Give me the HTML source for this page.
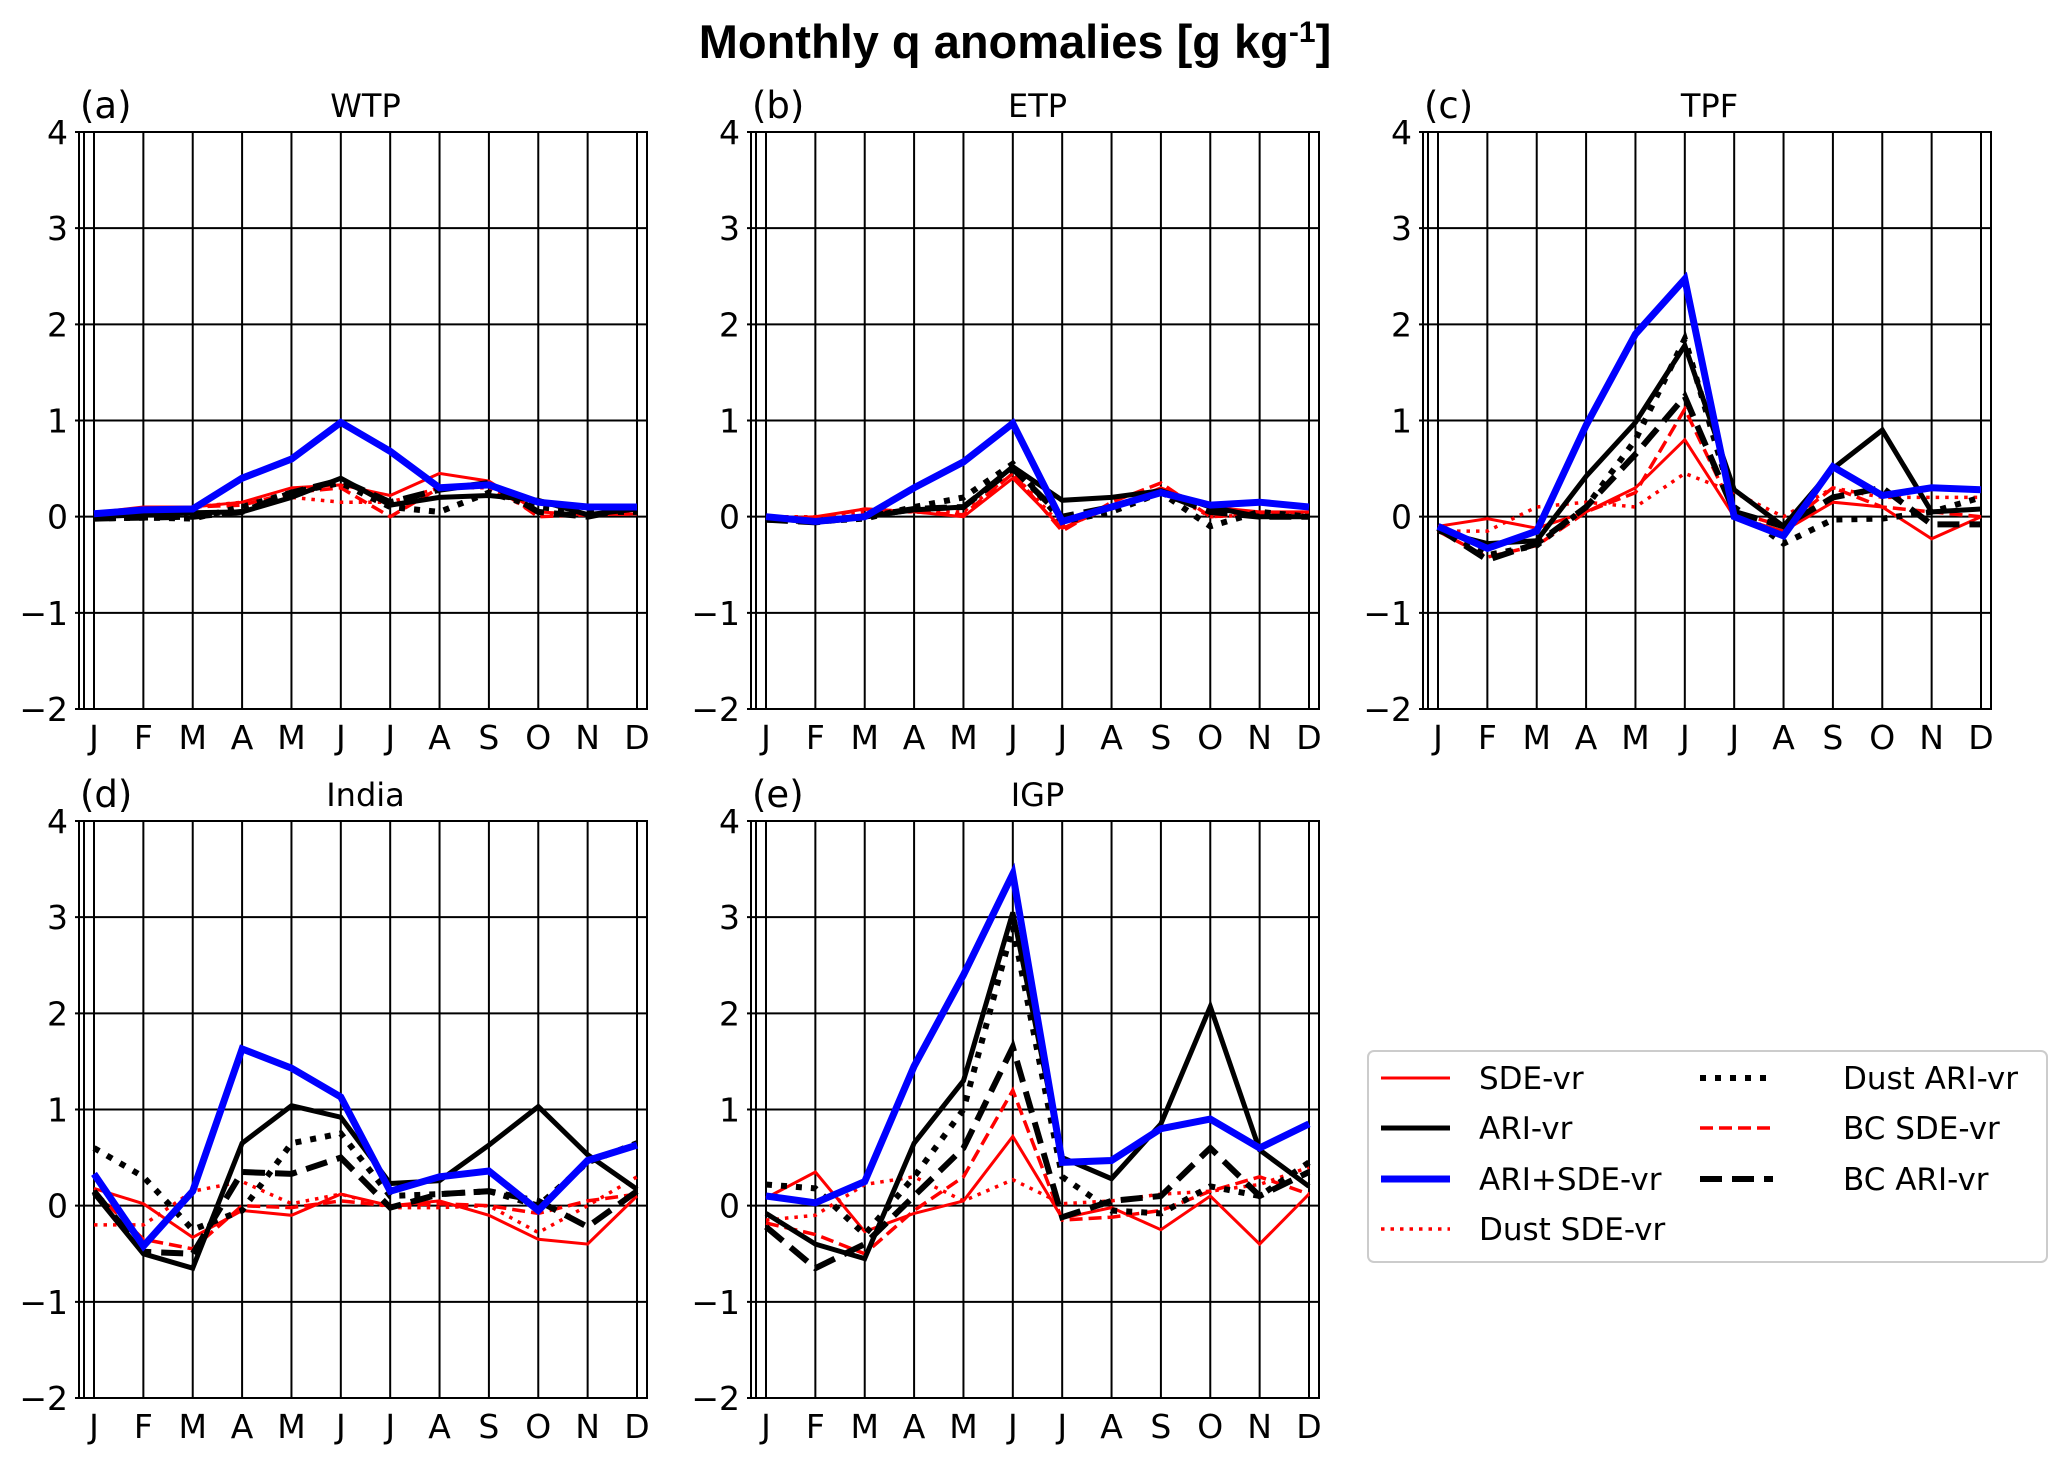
<!DOCTYPE html>
<html><head><meta charset="utf-8"><style>
html,body{margin:0;padding:0;background:#fff;}
svg{display:block;font-family:"DejaVu Sans","Liberation Sans",sans-serif;}
</style></head><body>
<svg id="chart" width="2067" height="1462" viewBox="0 0 2067 1462" xmlns="http://www.w3.org/2000/svg">
<text x="1015" y="58" text-anchor="middle" font-size="47" font-weight="bold" font-family="'Liberation Sans','DejaVu Sans',sans-serif">Monthly q anomalies [g kg<tspan font-size="30" dy="-16">-1</tspan><tspan dy="16">]</tspan></text>
<g id="panels"></g>
<g id="legend"></g>
</svg>
<script>
const months = ["J","F","M","A","M","J","J","A","S","O","N","D"];
const yTicks = [-2,-1,0,1,2,3,4];
const panelNames = ["WTP","ETP","TPF","India","IGP"];
const panelLetters = ["(a)","(b)","(c)","(d)","(e)"];
const seriesNames = ["SDE-vr","ARI-vr","ARI+SDE-vr","Dust SDE-vr","Dust ARI-vr","BC SDE-vr","BC ARI-vr"];
// WTP
const wtpSDE    = [0.04,0.1,0.1,0.15,0.3,0.33,0.22,0.45,0.37,0.05,0.02,0.03];
const wtpARI    = [0.0,0.02,0.04,0.05,0.2,0.4,0.12,0.2,0.22,0.17,0.02,0.08];
const wtpBoth   = [0.03,0.07,0.08,0.4,0.6,0.98,0.68,0.3,0.33,0.15,0.1,0.1];
const wtpDustSDE= [0.0,0.03,0.1,0.15,0.2,0.15,0.15,0.3,0.3,0.03,0.02,0.05];
const wtpDustARI= [-0.02,-0.01,-0.02,0.1,0.25,0.35,0.1,0.05,0.25,0.1,0.05,0.05];
const wtpBCSDE  = [0.02,0.03,0.1,0.12,0.25,0.3,0.0,0.3,0.35,0.0,0.02,0.03];
const wtpBCARI  = [-0.02,-0.01,0.0,0.05,0.25,0.38,0.15,0.28,0.35,0.05,0.0,0.1];
// ETP
const etpSDE    = [-0.02,0,0.08,0.05,0,0.4,-0.12,0.1,0.3,0.1,0.05,0.05];
const etpARI    = [-0.02,-0.05,0,0.07,0.1,0.52,0.17,0.2,0.27,0.1,0,0];
const etpBoth   = [0,-0.05,0,0.3,0.57,0.97,-0.05,0.1,0.25,0.12,0.15,0.1];
const etpDustSDE= [0,0,0.05,0.05,0.05,0.45,-0.1,0.1,0.28,0,0.02,0.03];
const etpDustARI= [-0.03,-0.05,-0.02,0.1,0.2,0.55,-0.05,0.05,0.25,-0.1,0.05,0];
const etpBCSDE  = [0,-0.02,0.08,0.05,0.02,0.45,-0.15,0.15,0.35,0,0.03,0.05];
const etpBCARI  = [-0.03,-0.06,0,0.08,0.1,0.5,0,0.1,0.25,0.05,0,0];
// TPF
const tpfSDE    = [-0.1,-0.02,-0.12,0.05,0.3,0.8,0,-0.15,0.15,0.1,-0.23,0];
const tpfARI    = [-0.15,-0.28,-0.25,0.42,0.98,1.78,0.28,-0.1,0.5,0.9,0.05,0.08];
const tpfBoth   = [-0.1,-0.33,-0.15,0.95,1.9,2.47,0,-0.2,0.52,0.22,0.3,0.28];
const tpfDustSDE= [-0.15,-0.15,0.1,0.15,0.1,0.45,0.25,0,0.3,0.2,0.2,0.2];
const tpfDustARI= [-0.12,-0.4,-0.3,0.1,0.8,1.85,0.1,-0.28,-0.03,-0.02,0.05,0.2];
const tpfBCSDE  = [-0.15,-0.42,-0.3,0.05,0.25,1.12,0.05,-0.1,0.3,0.1,0.05,0.0];
const tpfBCARI  = [-0.12,-0.45,-0.28,0.1,0.65,1.25,0.05,-0.1,0.2,0.3,-0.08,-0.08];
// India
const indSDE    = [0.18,0.02,-0.33,-0.05,-0.1,0.12,0,0.05,-0.1,-0.35,-0.4,0.1];
const indARI    = [0.13,-0.5,-0.65,0.65,1.04,0.92,0.23,0.26,0.63,1.03,0.53,0.17];
const indBoth   = [0.33,-0.42,0.15,1.63,1.43,1.13,0.15,0.3,0.36,-0.05,0.47,0.63];
const indDustSDE= [-0.2,-0.2,0.15,0.25,0.02,0.12,-0.02,-0.02,0,-0.28,0,0.3];
const indDustARI= [0.6,0.3,-0.25,-0.05,0.65,0.75,0.1,0.12,0.15,0,0.45,0.65];
const indBCSDE  = [0.15,-0.35,-0.45,0,-0.02,0.05,0,0.02,0,-0.08,0.05,0.12];
const indBCARI  = [0.15,-0.48,-0.5,0.35,0.33,0.5,-0.02,0.12,0.15,0.05,-0.22,0.15];
// IGP
const igpSDE    = [0.08,0.35,-0.27,-0.08,0.05,0.72,-0.13,-0.02,-0.25,0.1,-0.4,0.12];
const igpARI    = [-0.08,-0.4,-0.55,0.65,1.3,3.05,0.5,0.28,0.85,2.07,0.58,0.2];
const igpBoth   = [0.1,0.03,0.25,1.45,2.4,3.45,0.45,0.47,0.8,0.9,0.6,0.85];
const igpDustSDE= [-0.15,-0.1,0.22,0.3,0.05,0.27,0.02,0.05,0.12,0.15,0.22,0.4];
const igpDustARI= [0.22,0.18,-0.3,0.3,1.0,2.9,0.3,-0.05,-0.08,0.2,0.1,0.45];
const igpBCSDE  = [-0.18,-0.3,-0.5,-0.05,0.3,1.2,-0.15,-0.12,-0.05,0.15,0.3,0.12];
const igpBCARI  = [-0.22,-0.65,-0.4,0.1,0.6,1.65,-0.12,0.05,0.1,0.6,0.1,0.35];

const panelData = [
  [wtpSDE,wtpARI,wtpBoth,wtpDustSDE,wtpDustARI,wtpBCSDE,wtpBCARI],
  [etpSDE,etpARI,etpBoth,etpDustSDE,etpDustARI,etpBCSDE,etpBCARI],
  [tpfSDE,tpfARI,tpfBoth,tpfDustSDE,tpfDustARI,tpfBCSDE,tpfBCARI],
  [indSDE,indARI,indBoth,indDustSDE,indDustARI,indBCSDE,indBCARI],
  [igpSDE,igpARI,igpBoth,igpDustSDE,igpDustARI,igpBCSDE,igpBCARI]
];
const styles = [
  {c:"#ff0000",w:3,d:""},
  {c:"#000000",w:5,d:""},
  {c:"#0000ff",w:7,d:""},
  {c:"#ff0000",w:3.5,d:"3.5,6"},
  {c:"#000000",w:6,d:"6,9"},
  {c:"#ff0000",w:3.5,d:"13,6"},
  {c:"#000000",w:6,d:"22,10"}
];
const drawOrder = [0,3,5,4,6,1,2];
const layout = [[84,132],[756,132],[1428,132],[84,821],[756,821]];
const AW = 563, AH = 577;
const NS = "http://www.w3.org/2000/svg";
function mk(tag, attrs, parent){const e=document.createElementNS(NS,tag);for(const k in attrs)e.setAttribute(k,attrs[k]);parent.appendChild(e);return e;}
const root = document.getElementById("panels");

layout.forEach((pos,p)=>{
  const L=pos[0], T=pos[1];
  const xS = i => L + 10 + i*(AW-20)/11;
  const yS = v => T + (4 - v)*AH/6;
  const g = mk("g",{},root);
  
  
  months.forEach((m,i)=>{
    const ln = mk("line",{x1:xS(i),x2:xS(i),y1:T,y2:T+AH,stroke:"#000","stroke-width":2},g);
    
    
    const t = mk("text",{x:xS(i),y:T+AH+40,"text-anchor":"middle","font-size":33},g);
    t.textContent = m;
    
    
  });
  yTicks.forEach(v=>{
    const ln = mk("line",{x1:L-9,x2:L+AW,y1:yS(v),y2:yS(v),stroke:"#000","stroke-width":2},g);
    
    
    const t = mk("text",{x:L-16,y:yS(v)+12,"text-anchor":"end","font-size":33},g);
    t.textContent = v<0 ? "\u2212"+Math.abs(v) : String(v);
    
    
  });
  const extra = mk("line",{x1:L-5,x2:L-5,y1:T,y2:T+AH,stroke:"#000","stroke-width":2},g);
  
  
  const box = mk("rect",{x:L,y:T,width:AW,height:AH,fill:"none",stroke:"#000","stroke-width":2},g);
  
  
  const tt = mk("text",{x:L+AW/2,y:T-15,"text-anchor":"middle","font-size":32},g);
  tt.textContent = panelNames[p];
  
  
  const lt = mk("text",{x:L-4,y:T-14,"font-size":37},g);
  lt.textContent = panelLetters[p];
  
  
  drawOrder.forEach(s=>{
    const vals = panelData[p][s];
    const pts = vals.map((v,i)=>xS(i).toFixed(1)+","+yS(v).toFixed(1)).join(" ");
    const st = styles[s];
    const pl = mk("polyline",{points:pts,fill:"none",stroke:st.c,"stroke-width":st.w,"stroke-linejoin":"miter","stroke-dasharray":st.d||"none"},g);
    
    
  });
});

const lg = document.getElementById("legend");
const lb = mk("rect",{x:1368,y:1051,width:679,height:211,rx:6,fill:"#fff",stroke:"#ccc","stroke-width":2},lg);


const legendCols = [[0,1,2,3],[4,5,6]];
const colX = [[1381,1450,1479],[1700,1773,1843]];
const rowY = [1078,1128,1179,1229];
legendCols.forEach((col,ci)=>{
  col.forEach((s,ri)=>{
    const eg = mk("g",{},lg);
    
    
    const st = styles[s];
    mk("line",{x1:colX[ci][0],x2:colX[ci][1],y1:rowY[ri],y2:rowY[ri],stroke:st.c,"stroke-width":st.w,"stroke-dasharray":st.d||"none"},eg);
    const t = mk("text",{x:colX[ci][2],y:rowY[ri]+11,"font-size":31},eg);
    t.textContent = seriesNames[s];
  });
});
</script>
</body></html>
